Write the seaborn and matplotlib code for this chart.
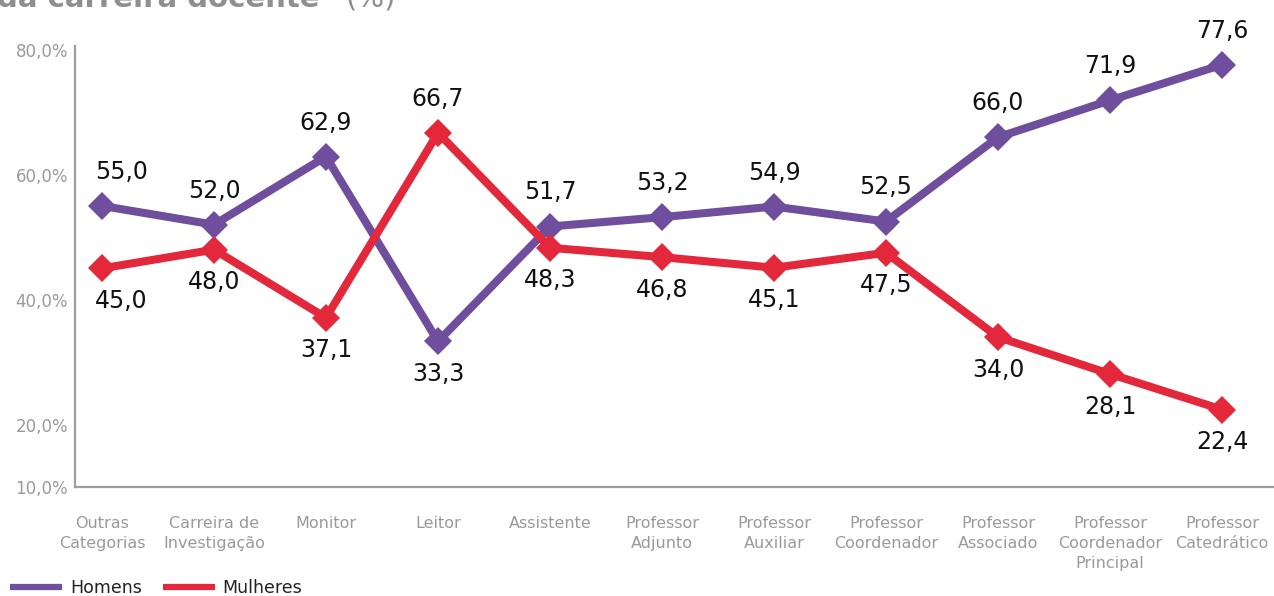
import numpy as np
import pandas as pd
import matplotlib
matplotlib.use("Agg")
import matplotlib.pyplot as plt
import seaborn as sns
from matplotlib.lines import Line2D

# ---------------- data ----------------
categorias = ["Outras\nCategorias", "Carreira de\nInvestigação", "Monitor", "Leitor",
              "Assistente", "Professor\nAdjunto", "Professor\nAuxiliar",
              "Professor\nCoordenador", "Professor\nAssociado",
              "Professor\nCoordenador\nPrincipal", "Professor\nCatedrático"]
homens = [55.0, 52.0, 62.9, 33.3, 51.7, 53.2, 54.9, 52.5, 66.0, 71.9, 77.6]
mulheres = [45.0, 48.0, 37.1, 66.7, 48.3, 46.8, 45.1, 47.5, 34.0, 28.1, 22.4]
series = ["Homens", "Mulheres"]
y_ticks = [10, 20, 40, 60, 80]
y_tick_labels = ["10,0%", "20,0%", "40,0%", "60,0%", "80,0%"]
title = "da carreira docente"
title_suffix = "(%)"

colors = {"Homens": "#6f4e9d", "Mulheres": "#e4283b"}

# ---------------- figure ----------------
sns.set_theme(style="white")
plt.rcParams["font.family"] = ["DejaVu Sans"]

W, H = 1274, 596
fig = plt.figure(figsize=(W / 100, H / 100), dpi=100)
ax = fig.add_axes([75 / W, 1 - 487 / H, 1 - 75 / W, (487 - 46) / H])

pos = np.arange(len(categorias))
df = pd.DataFrame({
    "pos": np.concatenate([pos, pos]),
    "valor": homens + mulheres,
    "sexo": [series[0]] * len(homens) + [series[1]] * len(mulheres),
})

sns.lineplot(data=df, x="pos", y="valor", hue="sexo", style="sexo",
             palette=colors, markers={"Homens": "D", "Mulheres": "D"},
             dashes=False, linewidth=5.8, markersize=14, markeredgewidth=0,
             legend=False, ax=ax, sort=False)

ax.set_xlim(-0.241, 10.464)
ax.set_ylim(10, 80.6)
ax.set_yticks(y_ticks)
ax.set_yticklabels(y_tick_labels)
ax.set_xticks(pos)
ax.set_xticklabels(categorias, linespacing=1.4)
ax.set_xlabel("")
ax.set_ylabel("")
ax.tick_params(axis="x", length=0, pad=21, labelsize=11.5, labelcolor="#9a9a9a")
ax.tick_params(axis="y", length=0, pad=5, labelsize=12, labelcolor="#9a9a9a")
for s in ["top", "right"]:
    ax.spines[s].set_visible(False)
for s in ["left", "bottom"]:
    ax.spines[s].set_color("#9d9d9d")
    ax.spines[s].set_linewidth(1.6)
ax.grid(False)

# value labels
for i, (h, m) in enumerate(zip(homens, mulheres)):
    dx = 14 if i == 0 else 0
    for v, other in ((h, m), (m, h)):
        dy = 24.5 if v >= other else -23.5
        ax.annotate(f"{v:.1f}".replace(".", ","), (i, v), xytext=(dx, dy),
                    textcoords="offset points", ha="center", va="center",
                    fontsize=17, color="#111111")

# title (cut off at the top like the reference)
fig.text(-3 / W, 1 - 7 / H, title, fontsize=21, fontweight="bold",
         color="#8f8f8f", va="baseline", ha="left")
fig.text(345 / W, 1 - 7 / H, title_suffix, fontsize=21,
         color="#8f8f8f", va="baseline", ha="left")

# legend
handles = [Line2D([0], [0], color=colors[s], linewidth=4.5, solid_capstyle="butt")
           for s in series]
fig.legend(handles, series, loc="center left", bbox_to_anchor=(10 / W, 1 - 588 / H),
           ncol=2, frameon=False, fontsize=12.5, handlelength=3.0,
           handletextpad=0.45, columnspacing=1.2, borderpad=0, borderaxespad=0,
           labelcolor="#222222")

fig.savefig("out.png", dpi=100)
